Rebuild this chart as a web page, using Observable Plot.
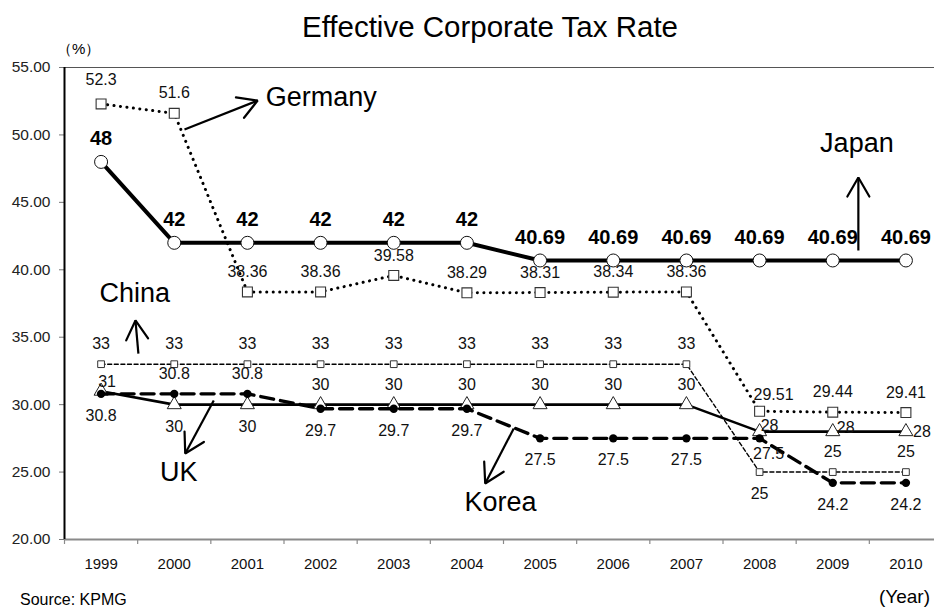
<!DOCTYPE html>
<html>
<head>
<meta charset="utf-8">
<script src="https://cdn.jsdelivr.net/npm/d3@7"></script>
<script src="https://cdn.jsdelivr.net/npm/@observablehq/plot@0.6"></script>
<style>
html, body { margin: 0; padding: 0; background: #fff; overflow: hidden; }
#wrap { position: relative; width: 934px; height: 610px; font-family: "Liberation Sans", Arial, sans-serif; color: #000; }
#wrap svg { position: absolute; left: 0; top: 0; }
.t { position: absolute; white-space: nowrap; line-height: 1; }
</style>
</head>
<body>
<div id="wrap"></div>
<script>
// ---- data ----
const years   = [1999, 2000, 2001, 2002, 2003, 2004, 2005, 2006, 2007, 2008, 2009, 2010];
const japan   = [48, 42, 42, 42, 42, 42, 40.69, 40.69, 40.69, 40.69, 40.69, 40.69];
const germany = [52.3, 51.6, 38.36, 38.36, 39.58, 38.29, 38.31, 38.34, 38.36, 29.51, 29.44, 29.41];
const china   = [33, 33, 33, 33, 33, 33, 33, 33, 33, 25, 25, 25];
const uk      = [31, 30, 30, 30, 30, 30, 30, 30, 30, 28, 28, 28];
const korea   = [30.8, 30.8, 30.8, 29.7, 29.7, 29.7, 27.5, 27.5, 27.5, 27.5, 24.2, 24.2];
const yTicks  = [20, 25, 30, 35, 40, 45, 50, 55];

const titleText  = "Effective Corporate Tax Rate";
const unitText   = "（%）";
const sourceText = "Source: KPMG";
const xUnitText  = "(Year)";

// where each value label sits relative to its point
const japanLabelAt   = ["above","above","above","above","above","above","above","above","above","above","above","above"];
const germanyLabelAt = ["high","above","above","above","above","above","above","above","above","aboveRight","above","above"];
const chinaLabelAt   = ["above","above","above","above","above","above","above","above","above","below","above","above"];
const ukLabelAt      = ["upRight","below","below","above","above","above","above","above","above","nearRight","nearRight2","right"];
const koreaLabelAt   = ["below","above","above","below","below","below","below","below","below","belowRight","below","below"];

// country annotations (data coordinates)
const annoNames   = ["Germany", "Japan", "China", "UK", "Korea"];
const annoNameX   = [2001.25, 2009.33, 1999.46, 2000.06, 2004.46];
const annoNameY   = [52.75, 49.35, 38.28, 24.97, 22.74];
const annoAnchor  = ["start", "middle", "middle", "middle", "middle"];
const arrowFromX  = [2000.14, 2009.35, 1999.51, 2000.54, 2004.64];
const arrowFromY  = [50.40, 41.43, 33.79, 30.31, 28.23];
const arrowToX    = [2001.14, 2009.35, 1999.47, 2000.15, 2004.25];
const arrowToY    = [52.55, 46.84, 36.24, 26.38, 24.15];

// ---- styling ----
const FONT = '"Liberation Sans", Arial, sans-serif';
const offsets = {
  above: [0, -20], high: [0, -24], below: [0, 22], right: [16, 0],
  aboveRight: [14, -16], nearRight: [10, -6], nearRight2: [13, -4],
  upRight: [6, -9], belowRight: [9, 16]
};

const series = [
  {name: "China",   values: china,   at: chinaLabelAt},
  {name: "Germany", values: germany, at: germanyLabelAt},
  {name: "UK",      values: uk,      at: ukLabelAt},
  {name: "Korea",   values: korea,   at: koreaLabelAt},
  {name: "Japan",   values: japan,   at: japanLabelAt}
];
const rows = s => years.map((yr, i) => ({year: yr, value: s.values[i], text: String(s.values[i]), place: s.at[i]}));
const tables = Object.fromEntries(series.map(s => [s.name, rows(s)]));
const labelRows = series.filter(s => s.name !== "Japan").flatMap(rows);

const bounds = [...years.map(y => y - 0.5), years[years.length - 1] + 0.5];
const annoRows = annoNames.map((n, i) => ({
  name: n, x: annoNameX[i], y: annoNameY[i], anchor: annoAnchor[i],
  x1: arrowFromX[i], y1: arrowFromY[i], x2: arrowToX[i], y2: arrowToY[i]
}));

function openHead(color) {
  const m = d3.create("svg:marker")
    .attr("viewBox", "-26 -15 30 30")
    .attr("markerWidth", 30).attr("markerHeight", 30)
    .attr("markerUnits", "userSpaceOnUse")
    .attr("orient", "auto")
    .attr("overflow", "visible")
    .attr("fill", "none").attr("stroke", color).attr("stroke-width", 2.2)
    .attr("stroke-linecap", "round");
  m.append("path").attr("d", "M-19,-11L0,0L-19,11");
  return m.node();
}

const lineStyle = {
  Japan:   {strokeWidth: 4},
  Germany: {strokeWidth: 3, strokeDasharray: "0.1,6.4", strokeLinecap: "round"},
  China:   {strokeWidth: 1.4, strokeDasharray: "4,2.6"},
  UK:      {strokeWidth: 2.6},
  Korea:   {strokeWidth: 3.4, strokeDasharray: "13,7"}
};
const dotStyle = {
  Japan:   {symbol: "circle",   r: 6.5,  fill: "white", stroke: "#111", strokeWidth: 1},
  Germany: {symbol: "square",   r: 5.6,  fill: "white", stroke: "#333", strokeWidth: 1.1},
  China:   {symbol: "square",   r: 3.8,  fill: "white", stroke: "#333", strokeWidth: 1},
  UK:      {symbol: "triangle", r: 5.2,  fill: "white", stroke: "#222", strokeWidth: 1},
  Korea:   {symbol: "circle",   r: 4.2,  fill: "black", stroke: "none"}
};

const marks = [
  Plot.ruleY([yTicks[yTicks.length - 1]], {stroke: "#555", strokeWidth: 1.2}),
  Plot.ruleY([yTicks[0]], {stroke: "#8a8a8a", strokeWidth: 2.2}),
  Plot.axisX(bounds, {tickSize: 5, tickFormat: () => "", stroke: "#8a8a8a", strokeWidth: 1.2}),
  Plot.axisX(years, {tickSize: 0, tickPadding: 19, tickFormat: d => String(d), fontSize: 15, fill: "#111"}),
  Plot.axisY(yTicks, {tickSize: 5, tickPadding: 9, tickFormat: d => d.toFixed(2), fontSize: 15.5, fill: "#222", stroke: "#777"}),
  Plot.ruleX([bounds[0]], {stroke: "#000", strokeWidth: 2})
];

for (const s of series) {
  marks.push(Plot.line(tables[s.name], {x: "year", y: "value", stroke: "black", ...lineStyle[s.name]}));
  marks.push(Plot.dot(tables[s.name], {x: "year", y: "value", ...dotStyle[s.name]}));
}

for (const [key, [dx, dy]] of Object.entries(offsets)) {
  marks.push(Plot.text(labelRows.filter(r => r.place === key), {
    x: "year", y: "value", text: "text", dx, dy, fontSize: 16, fill: "#111"
  }));
}
marks.push(Plot.text(tables.Japan, {x: "year", y: "value", text: "text", dy: -23, fontSize: 20, fontWeight: "bold", fill: "#000"}));

marks.push(Plot.link(annoRows, {x1: "x1", y1: "y1", x2: "x2", y2: "y2", stroke: "black", strokeWidth: 2.2, markerEnd: openHead}));
for (const anchor of ["start", "middle"]) {
  marks.push(Plot.text(annoRows.filter(d => d.anchor === anchor), {x: "x", y: "y", text: "name", textAnchor: anchor, fontSize: 27, fill: "#000"}));
}

const chart = Plot.plot({
  width: 934, height: 610,
  marginTop: 67, marginBottom: 71, marginLeft: 64, marginRight: 0,
  style: {fontFamily: FONT, background: "transparent", overflow: "visible"},
  x: {type: "linear", domain: [bounds[0], bounds[bounds.length - 1]], range: [64, 942]},
  y: {domain: [yTicks[0], yTicks[yTicks.length - 1]]},
  marks
});

const wrap = document.getElementById("wrap");
wrap.appendChild(chart);

function addText(txt, css) {
  const d = document.createElement("div");
  d.className = "t";
  d.textContent = txt;
  Object.assign(d.style, css);
  wrap.appendChild(d);
}
addText(titleText,  {left: "490px", top: "27px", fontSize: "29.5px", transform: "translate(-50%,-50%)"});
addText(unitText,   {left: "57px",  top: "48px", fontSize: "15px", transform: "translate(0,-50%)"});
addText(sourceText, {left: "20px",  top: "600px", fontSize: "16px", transform: "translate(0,-50%)"});
addText(xUnitText,  {left: "930px", top: "596px", fontSize: "19px", transform: "translate(-100%,-50%)"});
</script>
</body>
</html>
